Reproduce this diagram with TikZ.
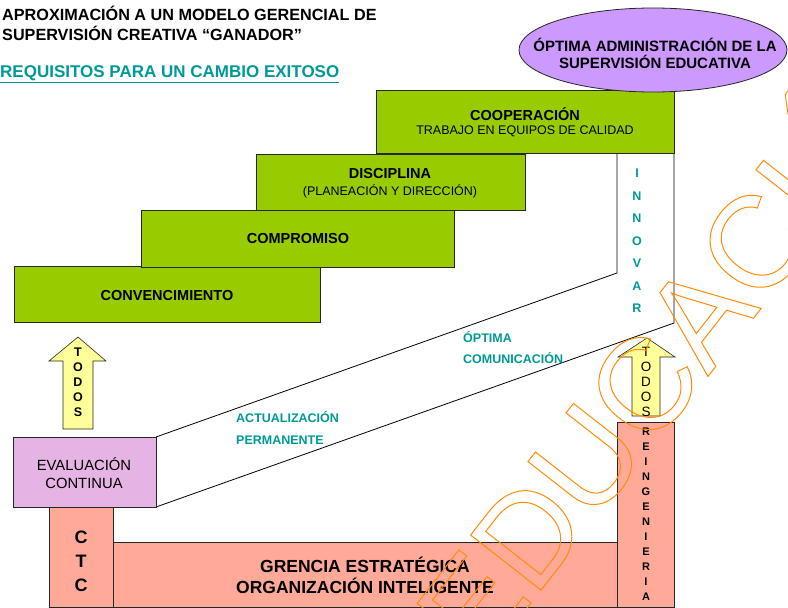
\documentclass[tikz,border=0pt]{standalone}
\usepackage{fontspec}
\setmainfont{Liberation Sans}
\usetikzlibrary{shapes.geometric,shapes.arrows}
\definecolor{lime}{RGB}{153,204,0}
\definecolor{lav}{RGB}{204,153,255}
\definecolor{evalc}{RGB}{230,180,228}
\definecolor{salmon}{RGB}{255,170,153}
\definecolor{lyellow}{RGB}{255,255,153}
\definecolor{tealc}{RGB}{0,153,153}
\definecolor{wmorange}{RGB}{255,140,10}
\newcommand{\fs}[2]{\fontsize{#1}{#2}\selectfont}
\tikzset{
  greenbox/.style={draw=black!85, fill=lime, line width=0.8pt},
  pinkbox/.style={draw=black!85, fill=salmon, line width=0.8pt},
  arrowshape/.style={draw=black!85, fill=lyellow, line width=0.6pt},
  lbl/.style={inner sep=0pt, align=center},
  stepfont/.style={font=\fs{14.5}{17}\bfseries},
  subfont/.style={font=\fs{12.5}{14}},
  teallbl/.style={inner sep=0pt, anchor=west, text=tealc, font=\fs{12.5}{14}\bfseries},
}
\begin{document}
\begin{tikzpicture}[x=1pt,y=-1pt]
\useasboundingbox (0,0) rectangle (788,608);
\fill[white] (0,0) rectangle (788,608);

% title
\node[lbl, anchor=west, align=left, font=\fs{16.2}{20}\bfseries] (title) at (2,23)
  {APROXIMACIÓN A UN MODELO GERENCIAL DE\\ SUPERVISIÓN CREATIVA “GANADOR”};
\node[lbl, anchor=west, text=tealc, font=\fs{17}{18}\bfseries] (req) at (0,74)
  {\underline{REQUISITOS PARA UN CAMBIO EXITOSO}};

% channel lines
\coordinate (ia) at (617,153);
\coordinate (ib) at (617,273);
\coordinate (oa) at (674,153);
\coordinate (ob) at (674,323);
\coordinate (ea) at (156,437);
\coordinate (eb) at (156,507);
\draw[line width=0.8pt] (ia) -- (ib) -- (ea);
\draw[line width=0.8pt] (oa) -- (ob) -- (eb);

% green steps
\draw[greenbox] (14,266) rectangle (320,322);
\draw[greenbox] (141,210) rectangle (454,267);
\draw[greenbox] (256,154) rectangle (525,210);
\draw[greenbox] (376,90) rectangle (674,153);
\node[lbl, stepfont] (conv) at (167,296) {CONVENCIMIENTO};
\node[lbl, stepfont] (comp) at (298,239) {COMPROMISO};
\node[lbl, stepfont] (disc) at (390,174) {DISCIPLINA};
\node[lbl, subfont] (plan) at (390,191) {(PLANEACIÓN Y DIRECCIÓN)};
\node[lbl, stepfont] (coop) at (525,114) {COOPERACIÓN};
\node[lbl, subfont] (trab) at (525,131) {TRABAJO EN EQUIPOS DE CALIDAD};

% ellipse
\node[ellipse, draw=black!85, fill=lav, line width=0.8pt, minimum width=268pt, minimum height=84pt, inner sep=0pt] (opt) at (653,50) {};
\node[lbl, font=\fs{15}{17}\bfseries] (optt) at (655,53) {ÓPTIMA ADMINISTRACIÓN DE LA\\SUPERVISIÓN EDUCATIVA};

% innovar
\node[lbl, font=\fs{12.5}{22.5}\bfseries, text=tealc] (inn) at (637,240.8) {I\\N\\N\\O\\V\\A\\R};

% teal labels
\node[teallbl] (opt1) at (463,337) {ÓPTIMA};
\node[teallbl] (opt2) at (463,358) {COMUNICACIÓN};
\node[teallbl] (act1) at (236,417) {ACTUALIZACIÓN};
\node[teallbl] (act2) at (236,440) {PERMANENTE};

% evaluacion
\draw[draw=black!85, fill=evalc, line width=0.8pt] (13,437) rectangle (156,507);
\node[lbl, font=\fs{14.8}{18}] (eval) at (84,473) {EVALUACIÓN\\CONTINUA};

% pink bars
\draw[pinkbox] (49,507) rectangle (113,607);
\draw[pinkbox] (113,542) rectangle (617,607);
\draw[pinkbox] (617,422) rectangle (674,607);
\node[lbl, font=\fs{18}{24}\bfseries] (ctc) at (81,561) {C\\T\\C};
\node[lbl, font=\fs{17.5}{21}\bfseries] (gren) at (365,575.5) {GRENCIA ESTRATÉGICA\\ORGANIZACIÓN INTELIGENTE};
\node[lbl, font=\fs{11}{15}\bfseries] (rein) at (646,514.5) {R\\E\\I\\N\\G\\E\\N\\I\\E\\R\\I\\A};

% arrows
\draw[arrowshape] (63,429) -- (63,361) -- (49,361) -- (78,337) -- (106,361) -- (93,361) -- (93,429) -- cycle;
\node[lbl, font=\fs{12.5}{15}\bfseries] (todos1) at (78,382) {T\\O\\D\\O\\S};
\draw[arrowshape] (632,416) -- (632,357) -- (618,357) -- (647,338) -- (675,357) -- (660,357) -- (660,416) -- cycle;
\node[lbl, font=\fs{13.5}{15.1}] (todos2) at (646,382) {T\\O\\D\\O\\S};

% watermark (outlined text)
\begin{scope}
\clip (0,0) rectangle (788,608);
\node[inner sep=0pt, anchor=base west, rotate=52, text=wmorange, font=\fs{130}{130}] (wm) at (481,667)
  {\special{pdf:literal direct 1 w 1 Tr}EDUCACIÓN\special{pdf:literal direct 0 Tr}};
\end{scope}
\end{tikzpicture}
\end{document}
